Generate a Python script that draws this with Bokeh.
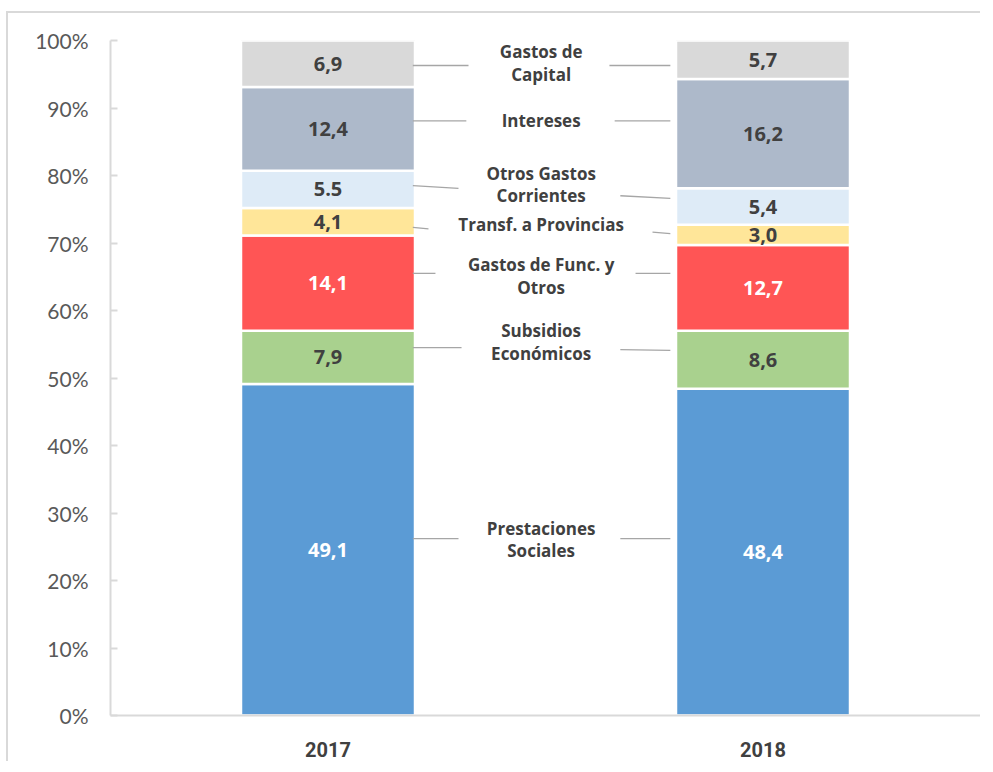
from bokeh.plotting import figure
from bokeh.models import Range1d, FixedTicker
from bokeh.core.properties import value
from bokeh.embed import file_html
from bokeh.resources import INLINE

# ---------------- data ----------------
years = ["2017", "2018"]
categories = ["Prestaciones Sociales", "Subsidios Económicos", "Gastos de Func. y Otros",
              "Transf. a Provincias", "Otros Gastos Corrientes", "Intereses", "Gastos de Capital"]
category_labels = ["Prestaciones\nSociales", "Subsidios\nEconómicos", "Gastos de Func. y\nOtros",
                   "Transf. a Provincias", "Otros Gastos\nCorrientes", "Intereses", "Gastos de\nCapital"]
values_2017 = [49.1, 7.9, 14.1, 4.1, 5.5, 12.4, 6.9]
values_2018 = [48.4, 8.6, 12.7, 3.0, 5.4, 16.2, 5.7]
labels_2017 = ["49,1", "7,9", "14,1", "4,1", "5.5", "12,4", "6,9"]
labels_2018 = ["48,4", "8,6", "12,7", "3,0", "5,4", "16,2", "5,7"]
y_ticks = [0, 10, 20, 30, 40, 50, 60, 70, 80, 90, 100]

# ---------------- styles ----------------
colors = ["#5B9BD5", "#A9D18E", "#FF5555", "#FFE699", "#DEEBF7", "#ADB9CA", "#D9D9D9"]
text_colors_2017 = ["white", "#404040", "white", "#404040", "#404040", "#404040", "#404040"]
text_colors_2018 = ["white", "#404040", "white", "#404040", "#404040", "#404040", "#404040"]

# layout of the middle labels (percent units) and connector lines
label_y = [26.1, 55.3, 65.1, 72.7, 78.7, 88.1, 96.7]
line_left_y0 = [26.2, 54.5, 65.5, 72.3, 78.5, 88.1, 96.3]
line_left_y1 = [26.2, 54.5, 65.5, 72.1, 78.1, 88.1, 96.3]
line_left_x1 = [0.80, 0.807, 0.747, 0.731, 0.80, 0.818, 0.823]
line_right_y0 = [26.2, 54.2, 65.5, 71.6, 77.0, 88.1, 96.3]
line_right_y1 = [26.2, 54.1, 65.5, 71.4, 76.6, 88.1, 96.3]
line_right_x0 = [1.172, 1.172, 1.207, 1.246, 1.172, 1.159, 1.147]

x_pos = [0.5, 1.5]
bar_w = 0.4

p = figure(width=974, height=750, output_backend="svg", toolbar_location=None,
           x_range=Range1d(0, 2), y_range=Range1d(0, 100))
p.styles = {"border-top": "2px solid #d9d9d9", "border-left": "2px solid #d9d9d9",
            "margin-top": "11px", "margin-left": "6px"}
p.min_border_left = 102
p.min_border_right = 2
p.min_border_top = 27
p.min_border_bottom = 48
p.outline_line_color = None
p.xgrid.visible = False
p.ygrid.visible = False
p.background_fill_color = "white"
p.border_fill_color = "white"

for xi, vals, labs, tcols in [(x_pos[0], values_2017, labels_2017, text_colors_2017),
                              (x_pos[1], values_2018, labels_2018, text_colors_2018)]:
    bottoms = []
    tops = []
    acc = 0.0
    for v in vals:
        bottoms.append(acc)
        acc += v
        tops.append(acc)
    p.vbar(x=[xi] * len(vals), bottom=bottoms, top=tops, width=bar_w,
           fill_color=colors, line_color="white", line_width=2.5)
    mids = [(b + t) / 2 for b, t in zip(bottoms, tops)]
    p.text(x=[xi] * len(vals), y=mids, text=labs, text_color=tcols,
           text_align="center", text_baseline="middle",
           text_font=value("Open Sans"), text_font_style="bold", text_font_size="20px")

# connectors
edge_l = x_pos[0] + bar_w / 2 - 0.005
edge_r = x_pos[1] - bar_w / 2 - 0.013
p.segment(x0=[edge_l] * 7, y0=line_left_y0, x1=line_left_x1, y1=line_left_y1,
          line_color="#a6a6a6", line_width=1.3)
p.segment(x0=line_right_x0, y0=line_right_y0, x1=[edge_r] * 7, y1=line_right_y1,
          line_color="#a6a6a6", line_width=1.3)

# category labels
p.text(x=[0.99] * 7, y=label_y, text=category_labels, text_color="#404040",
       text_align="center", text_baseline="middle", text_line_height=0.98,
       text_font=value("Open Sans"), text_font_style="bold", text_font_size="17px")

# axes
p.xaxis.ticker = FixedTicker(ticks=x_pos)
p.xaxis.major_label_overrides = {x_pos[0]: years[0], x_pos[1]: years[1]}
p.xaxis.major_tick_line_color = None
p.xaxis.minor_tick_line_color = None
p.xaxis.axis_line_color = "#d9d9d9"
p.xaxis.axis_line_width = 2
p.xaxis.major_label_text_font = "Roboto"
p.xaxis.major_label_text_font_style = "bold"
p.xaxis.major_label_text_font_size = "20px"
p.xaxis.major_label_text_color = "#404040"
p.xaxis.major_label_standoff = 20

p.yaxis.ticker = FixedTicker(ticks=y_ticks)
p.yaxis.major_label_overrides = {t: f"{t}%" for t in y_ticks}
p.yaxis.axis_line_color = "#d9d9d9"
p.yaxis.axis_line_width = 2
p.yaxis.major_tick_line_color = "#d9d9d9"
p.yaxis.major_tick_line_width = 2
p.yaxis.major_tick_in = 7
p.yaxis.major_tick_out = 0
p.yaxis.minor_tick_line_color = None
p.yaxis.major_label_text_font = "Lato"
p.yaxis.major_label_text_font_size = "21px"
p.yaxis.major_label_text_color = "#595959"
p.yaxis.major_label_standoff = 22

open("out.html", "w").write(file_html(p, INLINE))
